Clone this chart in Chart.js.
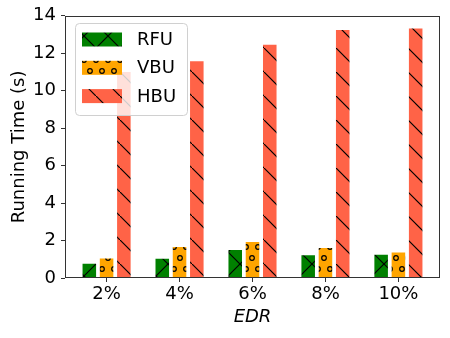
<!DOCTYPE html>
<html>
<head>
<meta charset="utf-8">
<script src="https://cdn.jsdelivr.net/npm/chart.js@4"></script>
<style>
  html, body { margin: 0; padding: 0; background: #fff; }
  #wrap { width: 450px; height: 338px; }
</style>
</head>
<body>
<div id="wrap"><canvas id="chart" width="450" height="338"></canvas></div>
<script>
// data
const categories = ['2%', '4%', '6%', '8%', '10%'];
const rfuTimes = [0.81, 1.08, 1.55, 1.27, 1.30];
const vbuTimes = [1.09, 1.71, 1.98, 1.66, 1.41];
const hbuTimes = [11.05, 11.63, 12.51, 13.30, 13.37];
const yTicks = [0, 2, 4, 6, 8, 10, 12, 14];

const FONT = "'DejaVu Sans', sans-serif";
const FS = 18;

// hatch patterns (like matplotlib hatches)
function makePattern(bg, kind) {
    const c = document.createElement('canvas');
    const w = kind === 'o' ? 12 : 24;
    const h = kind === 'o' ? 22 : 24;
    c.width = w; c.height = h;
    const g = c.getContext('2d');
    g.fillStyle = bg;
    g.fillRect(0, 0, w, h);
    g.strokeStyle = '#000';
    g.lineWidth = 1.2;
    if (kind === '\\' || kind === 'x') {
        g.beginPath();
        g.moveTo(-2, -2); g.lineTo(w + 2, h + 2);
        g.stroke();
    }
    if (kind === 'x') {
        g.beginPath();
        g.moveTo(w + 2, -2); g.lineTo(-2, h + 2);
        g.stroke();
    }
    if (kind === 'o') {
        const pts = [[6, 5], [0, 16], [12, 16]];
        pts.forEach(p => {
            g.beginPath();
            g.arc(p[0], p[1], 2.3, 0, Math.PI * 2);
            g.stroke();
        });
    }
    return g.createPattern(c, 'repeat');
}

const ctx = document.getElementById('chart').getContext('2d');

const series = [
    { label: 'RFU', data: rfuTimes, color: '#008000', hatch: 'x' },
    { label: 'VBU', data: vbuTimes, color: '#FFA500', hatch: 'o' },
    { label: 'HBU', data: hbuTimes, color: '#FF6347', hatch: '\\' }
];
series.forEach(s => s.pattern = makePattern(s.color, s.hatch));

// frame around plot + legend box inside the plot
const framePlugin = {
    id: 'frameLegend',
    afterDraw(chart) {
        const a = chart.chartArea;
        const g = chart.ctx;
        g.save();
        g.strokeStyle = '#333';
        g.lineWidth = 1;
        g.strokeRect(Math.round(a.left) + 0.5, Math.round(a.top) + 0.5,
            Math.round(a.right - a.left) - 1, Math.round(a.bottom - a.top) - 1);

        // legend
        const lx = 75.5, ly = 23.5, lw = 112, lh = 92, r = 4;
        g.beginPath();
        g.roundRect(lx, ly, lw, lh, r);
        g.fillStyle = 'rgba(255,255,255,0.8)';
        g.fill();
        g.strokeStyle = '#d0d0d0';
        g.stroke();
        series.forEach((s, i) => {
            const cy = 39.5 + i * 28.3;
            g.fillStyle = s.pattern;
            g.fillRect(82, cy - 7, 40, 14);
            g.fillStyle = '#000';
            g.font = FS + 'px ' + FONT;
            g.textBaseline = 'middle';
            g.textAlign = 'left';
            g.fillText(s.label, 137, cy + 1);
        });
        g.restore();
    }
};

new Chart(ctx, {
    type: 'bar',
    data: {
        datasets: series.map(s => ({
            label: s.label,
            data: s.data.map((v, i) => ({ x: i, y: v })),
            backgroundColor: s.pattern,
            borderColor: 'rgba(255,255,255,0.6)',
            borderWidth: 1,
            categoryPercentage: 0.71,
            barPercentage: 0.9
        }))
    },
    options: {
        responsive: false,
        animation: false,
        devicePixelRatio: 1,
        layout: { padding: { top: 14, right: 10, left: 0, bottom: 0 } },
        plugins: { legend: { display: false }, tooltip: { enabled: false } },
        scales: {
            x: {
                type: 'linear',
                min: -0.57,
                max: 4.57,
                offset: false,
                afterBuildTicks: sc => { sc.ticks = categories.map((c, i) => ({ value: i })); },
                afterFit: sc => { sc.height = 60; },
                ticks: {
                    callback: v => categories[v],
                    color: '#000',
                    font: { family: FONT, size: FS },
                    padding: 2,
                    maxRotation: 0
                },
                grid: { offset: false, drawOnChartArea: false, drawTicks: true, tickLength: 4, color: '#333' },
                border: { display: false },
                title: {
                    display: true,
                    text: 'EDR',
                    color: '#000',
                    font: { family: FONT, size: FS, style: 'italic' },
                    padding: { top: 0, bottom: 10 }
                }
            },
            y: {
                min: 0,
                max: 14,
                afterBuildTicks: sc => { sc.ticks = yTicks.map(v => ({ value: v })); },
                afterFit: sc => { sc.width = 65; },
                ticks: {
                    color: '#000',
                    font: { family: FONT, size: FS },
                    padding: 5
                },
                grid: { drawOnChartArea: false, drawTicks: true, tickLength: 4, color: '#333' },
                border: { display: false },
                title: {
                    display: true,
                    text: 'Running Time (s)',
                    color: '#000',
                    font: { family: FONT, size: FS },
                    padding: { top: 9, bottom: 0 }
                }
            }
        }
    },
    plugins: [framePlugin]
});
</script>
</body>
</html>
